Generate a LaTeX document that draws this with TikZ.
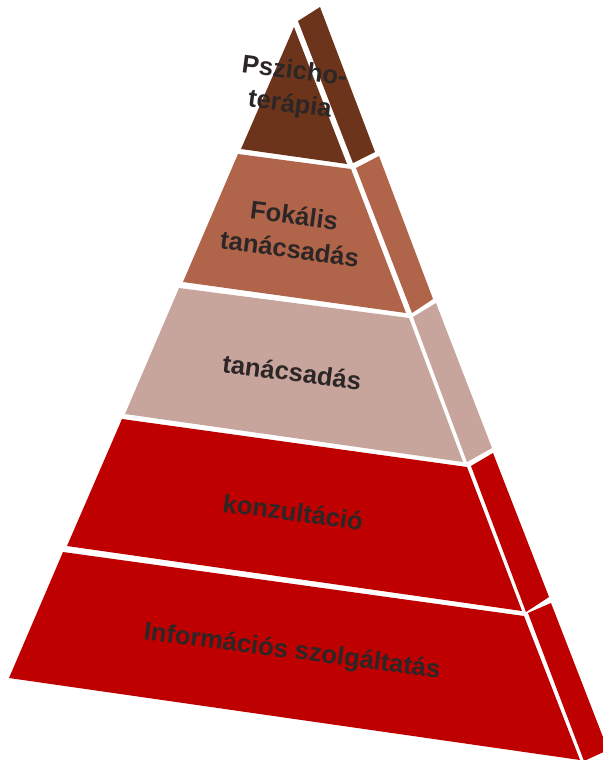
\documentclass[tikz,border=0pt]{standalone}
\usepackage{xcolor}
\usepackage{fontspec}
\setmainfont{Liberation Sans}
\usepackage{tikz}
\definecolor{psychobrown}{RGB}{108,53,27}
\definecolor{fokalbrown}{RGB}{176,100,74}
\definecolor{tanacspink}{RGB}{200,165,156}
\definecolor{konzred}{RGB}{190,0,0}
\definecolor{txtgray}{RGB}{45,38,38}

\begin{document}
\begin{tikzpicture}[x=0.5pt,y=0.5pt,yscale=-1,
  lbl/.style={font=\bfseries\fontsize{12.8}{16.8}\selectfont,text=txtgray,align=center,inner sep=0pt,rotate=-7.5}]
\useasboundingbox (0,0) rectangle (603,760);
\clip (0,0) rectangle (603,760);
%Pszichoterapia
\fill [psychobrown] (294,27) -- (241,149) -- (347,164) -- cycle;
\fill [psychobrown] (298,21) -- (320,7) -- (375,152) -- (353,163) -- cycle;
%Fokalis tanacsadas
\fill [fokalbrown] (238,154) -- (351,169) -- (406,313) -- (183,282) -- cycle;
\fill [fokalbrown] (356,168) -- (379,156) -- (433,299) -- (412,313) -- cycle;
%Tanacsadas
\fill [tanacspink] (179,288) -- (409,318) -- (463,462) -- (125,414) -- cycle;
\fill [tanacspink] (413,317) -- (436,303) -- (492,448) -- (467,462) -- cycle;
%Konzultacio
\fill [konzred] (122,419) -- (467,467) -- (522,611) -- (67,546) -- cycle;
\fill [konzred] (471,466) -- (493,453) -- (549,597) -- (526,612) -- cycle;
%Informacios szolgaltatas
\fill [konzred] (63,552) -- (524,616) -- (580,760) -- (9,678) -- cycle;
\fill [konzred] (528,613) -- (551,603) -- (608,750) -- (584,761) -- cycle;
%Text
\node [lbl] (psycho) at (292,89) {Pszicho-\\terápia};
\node [lbl] (fokalis) at (292,232) {Fokális\\tanácsadás};
\node [lbl] (tanacs) at (292,372) {tanácsadás};
\node [lbl] (konz) at (293,512) {konzultáció};
\node [lbl] (info) at (292,652) {Információs szolgáltatás};
\end{tikzpicture}
\end{document}
